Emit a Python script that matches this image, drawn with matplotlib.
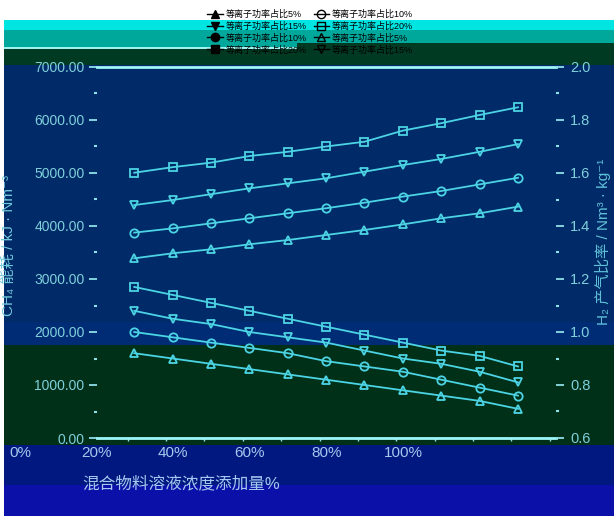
import numpy as np
import matplotlib.pyplot as plt
from matplotlib.lines import Line2D
from matplotlib.patches import Rectangle
from matplotlib.ticker import MultipleLocator, FormatStrFormatter

plt.rcParams['font.family'] = ['Liberation Sans', 'Noto Sans CJK SC', 'DejaVu Sans']

# 数据：添加量序号 0..10
x = np.arange(11)

# 左轴：CH4 能耗 (kJ/Nm3)
ch4_5 = [3390, 3485, 3560, 3655, 3735, 3830, 3925, 4030, 4145, 4240, 4365]
ch4_10 = [3875, 3955, 4050, 4145, 4240, 4335, 4440, 4555, 4660, 4785, 4910]
ch4_15 = [4395, 4490, 4600, 4710, 4805, 4900, 5025, 5150, 5265, 5400, 5545]
ch4_20 = [5005, 5110, 5195, 5320, 5400, 5500, 5590, 5800, 5940, 6095, 6240]

# 右轴：产率 (Nm3/kg)
h2_5 = [0.92, 0.90, 0.88, 0.86, 0.84, 0.82, 0.80, 0.78, 0.76, 0.74, 0.71]
h2_10 = [1.00, 0.98, 0.96, 0.94, 0.92, 0.89, 0.87, 0.85, 0.82, 0.79, 0.76]
h2_15 = [1.08, 1.05, 1.03, 1.00, 0.98, 0.96, 0.93, 0.90, 0.88, 0.85, 0.81]
h2_20 = [1.17, 1.14, 1.11, 1.08, 1.05, 1.02, 0.99, 0.96, 0.93, 0.91, 0.87]

x_labels = ['0%', '20%', '40%', '60%', '80%', '100%']
x_label_pos = [0, 20, 40, 60, 80, 100]

W, H = 614, 516
fig = plt.figure(figsize=(W / 100, H / 100), dpi=100)
fig.patch.set_facecolor('white')


def band(y0, y1, color, x0=4, x1=W):
    fig.add_artist(Rectangle((x0 / W, 1 - y1 / H), (x1 - x0) / W, (y1 - y0) / H,
                             transform=fig.transFigure, facecolor=color,
                             edgecolor='none', zorder=-5))


# 背景色带
band(20, 30, '#00e4e2')
band(30, 47, '#00a89c')
band(47, 49, '#9ef2f0', x1=297)
band(43, 65, '#003a22', x0=297)
band(49, 65, '#003a22', x1=297)
band(65, 322, '#002a68')
band(322, 345, '#002c76')
band(345, 445, '#003018')
band(445, 485, '#001880')
band(485, H, '#0a10a8')

line_c = '#4cd4e4'
tick_c = '#8ee0e8'
lab_c = '#7fd0dc'

ax = fig.add_axes([97 / W, 1 - 438 / H, (556 - 97) / W, (438 - 67) / H])
ax.set_facecolor('none')
ax2 = ax.twinx()

series_left = [(ch4_20, 's'), (ch4_15, 'v'), (ch4_10, 'o'), (ch4_5, '^')]
for ys, m in series_left:
    ax.plot(x, ys, color=line_c, lw=1.3, marker=m, ms=6, mfc='none', mec=line_c, mew=1.3)

series_right = [(h2_20, 's'), (h2_15, 'v'), (h2_10, 'o'), (h2_5, '^')]
for ys, m in series_right:
    ax2.plot(x, ys, color=line_c, lw=1.3, marker=m, ms=6, mfc='none', mec=line_c, mew=1.3)

ax.set_xlim(-0.97, 10.99)
ax.set_ylim(0, 7000)
ax2.set_ylim(0.6, 2.0)

ax.yaxis.set_major_locator(MultipleLocator(1000))
ax.yaxis.set_minor_locator(MultipleLocator(500))
ax.yaxis.set_major_formatter(FormatStrFormatter('%.2f'))
ax2.yaxis.set_major_locator(MultipleLocator(0.2))
ax2.yaxis.set_minor_locator(MultipleLocator(0.1))
ax2.yaxis.set_major_formatter(FormatStrFormatter('%.1f'))

ax.set_xticks(np.arange(12) - 0.17)
ax.tick_params(axis='x', length=2, width=1, color=tick_c, labelbottom=False)
ax.tick_params(axis='y', which='major', length=6, width=1.3, color=tick_c,
               labelcolor=lab_c, labelsize=10, pad=3)
ax.tick_params(axis='y', which='minor', length=2, width=1.5, color=tick_c)
ax2.tick_params(axis='y', which='major', length=6, width=1.3, color=tick_c,
                labelcolor=lab_c, labelsize=10.5, pad=4)
ax2.tick_params(axis='y', which='minor', length=2, width=1.5, color=tick_c)

for a in (ax, ax2):
    for s in ('left', 'right'):
        a.spines[s].set_visible(False)
ax2.spines['top'].set_visible(False)
ax2.spines['bottom'].set_visible(False)
for s in ('top', 'bottom'):
    ax.spines[s].set_color('#9ef6f6')
    ax.spines[s].set_linewidth(2)

# 横轴刻度标签
ax_lab = fig.add_axes([0, 1 - 446 / H, 1, 0.001])
ax_lab.set_xlim(-20 / 3.83, (W - 20) / 3.83)
ax_lab.set_xticks(x_label_pos)
ax_lab.set_xticklabels(x_labels)
ax_lab.set_yticks([])
ax_lab.tick_params(axis='x', length=0, pad=0, labelsize=11, labelcolor='#a4c8ec')
ax_lab.patch.set_visible(False)
for s in ax_lab.spines.values():
    s.set_visible(False)

fig.text(181 / W, 1 - 483 / H, '混合物料溶液浓度添加量%', ha='center', va='center',
         fontsize=12, color='#a4c8f0')
fig.text(9 / W, 1 - 246 / H, 'CH₄ 能耗 / kJ · Nm⁻³', rotation=90, ha='center',
         va='center', fontsize=11, color='#70c8dc')
fig.text(603 / W, 1 - 242 / H, 'H₂ 产气比率 / Nm³ · kg⁻¹', rotation=90, ha='center',
         va='center', fontsize=11, color='#60c0d8')

# 图例
handles = [
    Line2D([], [], color='k', lw=1, marker='^', ms=6, mfc='k'),
    Line2D([], [], color='k', lw=1, marker='v', ms=6, mfc='k'),
    Line2D([], [], color='k', lw=1, marker='o', ms=6, mfc='k'),
    Line2D([], [], color='k', lw=1, marker='s', ms=6, mfc='k'),
    Line2D([], [], color='k', lw=1, marker='o', ms=6, mfc='none'),
    Line2D([], [], color='k', lw=1, marker='s', ms=6, mfc='none'),
    Line2D([], [], color='k', lw=1, marker='^', ms=6, mfc='none'),
    Line2D([], [], color='k', lw=1, marker='v', ms=6, mfc='none'),
]
labels = ['等离子功率占比5%', '等离子功率占比15%', '等离子功率占比10%', '等离子功率占比20%',
          '等离子功率占比10%', '等离子功率占比20%', '等离子功率占比5%', '等离子功率占比15%']
fig.legend(handles, labels, ncol=2, loc='upper center', bbox_to_anchor=(0.505, 0.99),
           frameon=False, fontsize=6.5, handlelength=1.7, handletextpad=0.3,
           columnspacing=0.8, labelspacing=0.3, borderpad=0)

fig.savefig('out.png', dpi=100)
